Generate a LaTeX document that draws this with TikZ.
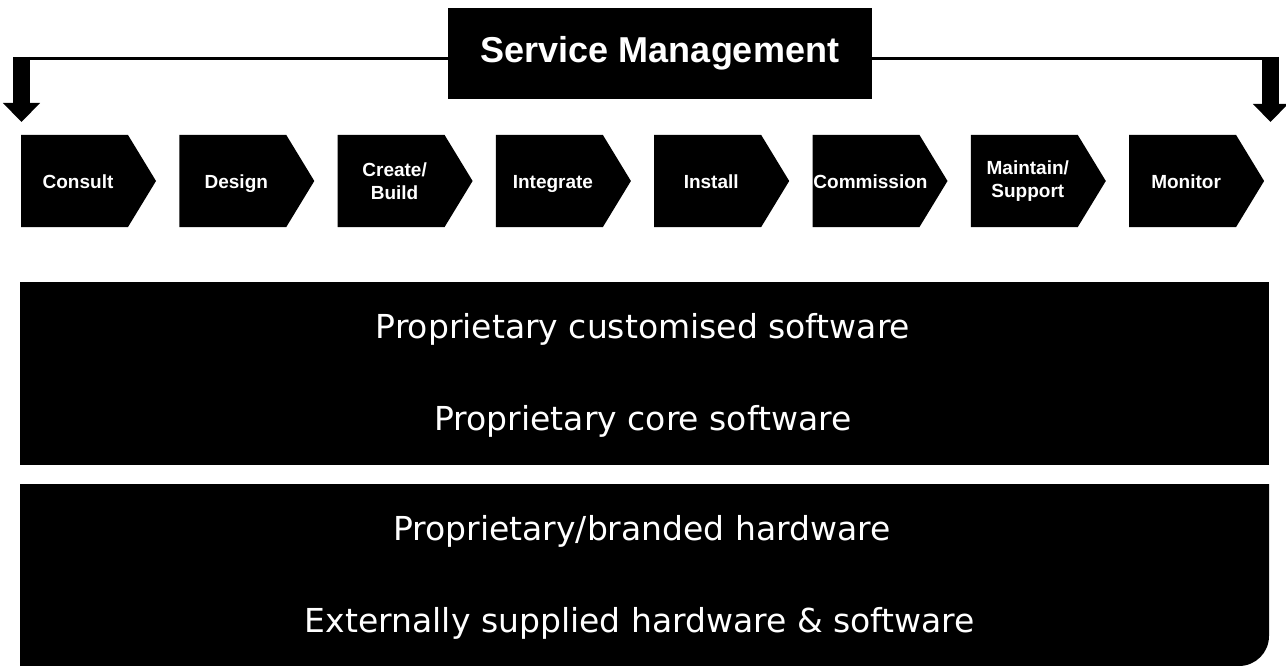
\documentclass[tikz,border=0pt]{standalone}
\usepackage{fontspec}
\setmainfont{Liberation Sans}
\newfontfamily\bigfont{DejaVu Sans}
\usetikzlibrary{arrows.meta}
\begin{document}
\begin{tikzpicture}[x=1pt,y=-1pt,
  stagetext/.style={text=white,font=\fontsize{19}{23}\selectfont\bfseries,align=center,inner sep=0pt},
  oneline/.style={stagetext,text height=13.6pt,text depth=0pt},
  layertext/.style={text=white,font=\bigfont\fontsize{33}{40}\selectfont,anchor=base,inner sep=0pt},
  bar/.style={line width=3pt},
  downarrow/.style={line width=17pt,-{Triangle[length=19pt,width=36pt]}},
  headbox/.style={fill=black,text=white,minimum width=424pt,minimum height=91pt,inner sep=0pt,
    font=\fontsize{36}{43}\selectfont\bfseries}]
\useasboundingbox (0,0) rectangle (1286,666);

% Service Management header
\node[headbox] (sm) at (660,53.5) {Service Management};

% left connector
\coordinate (la) at (21.5,57);
\coordinate (lt) at (21.5,122);
\draw[bar] (sm.west |- 0,58.5) -- (13,58.5);
\draw[downarrow] (la) -- (lt);

% right connector
\coordinate (ra) at (1270.5,57);
\coordinate (rt) at (1270.5,122);
\draw[bar] (sm.east |- 0,58.5) -- (1279,58.5);
\draw[downarrow,-{Triangle[length=18pt,width=34pt]}] (ra) -- (rt);

% process chevrons
\foreach \n in {0,...,7}{
  \pgfmathsetmacro{\xs}{21+158.3*\n}
  \fill[black] (\xs,135) -- ++(107,0) -- ++(28,46) -- ++(-28,46) -- ++(-107,0) -- cycle;
}
\node[oneline]   (s0) at (78,181.5)     {Consult};
\node[oneline]   (s1) at (236.3,181.5)  {Design};
\node[stagetext] (s2) at (394.6,181)    {Create/\\Build};
\node[oneline]   (s3) at (552.9,181.5)  {Integrate};
\node[oneline]   (s4) at (711.2,181.5)  {Install};
\node[oneline]   (s5) at (870.5,181.5)  {Commission};
\node[stagetext] (s6) at (1027.8,181)   {Maintain/\\Support};
\node[oneline]   (s7) at (1186.1,181.5) {Monitor};

% layer boxes
\fill[black] (20,282) rectangle (1269,465);
\fill[black] (20,484) -- (1269,484) -- (1269,636)
  .. controls (1269,652.6) and (1255.6,666) .. (1239,666) -- (20,666) -- cycle;

\node[layertext] (l1) at (643,338) {Proprietary customised software};
\node[layertext] (l2) at (643,430) {Proprietary core software};
\node[layertext] (l3) at (642,540) {Proprietary/branded hardware};
\node[layertext] (l4) at (640,632) {Externally supplied hardware \& software};
\end{tikzpicture}
\end{document}
